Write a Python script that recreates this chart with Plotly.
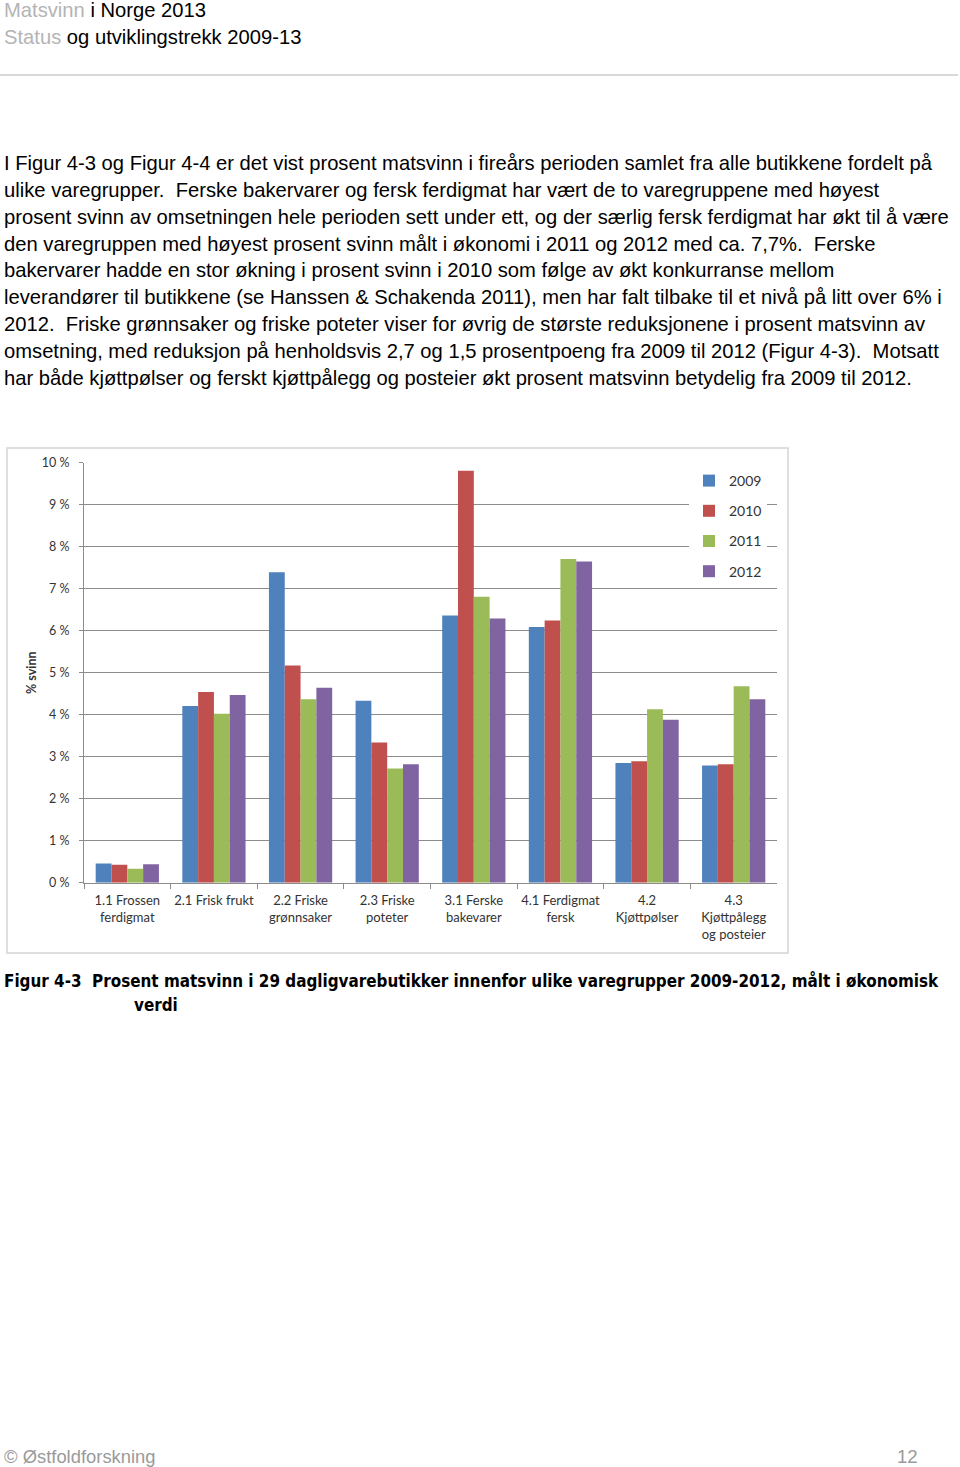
import plotly.graph_objects as go

W, H = 960, 1467

categories = [
    "1.1 Frossen<br>ferdigmat", "2.1 Frisk frukt", "2.2 Friske<br>grønnsaker",
    "2.3 Friske<br>poteter", "3.1 Ferske<br>bakevarer", "4.1 Ferdigmat<br>fersk",
    "4.2<br>Kjøttpølser", "4.3<br>Kjøttpålegg<br>og posteier",
]
years = ["2009", "2010", "2011", "2012"]
v2009 = [0.46, 4.21, 7.39, 4.33, 6.36, 6.09, 2.85, 2.79]
v2010 = [0.43, 4.54, 5.17, 3.34, 9.81, 6.24, 2.89, 2.82]
v2011 = [0.33, 4.02, 4.37, 2.72, 6.81, 7.71, 4.13, 4.68]
v2012 = [0.44, 4.47, 4.64, 2.82, 6.29, 7.65, 3.88, 4.37]
series = [v2009, v2010, v2011, v2012]
colors = ["#4F81BD", "#C0504D", "#9BBB59", "#8064A2"]
y_ticks = list(range(0, 11))
y_ticktext = [f"{v} %" for v in y_ticks]

header1 = "<span style='color:#b4b4b4'>Matsvinn</span> i Norge 2013"
header2 = "<span style='color:#b4b4b4'>Status</span> og utviklingstrekk 2009-13"
paragraph = [
    "I Figur 4-3 og Figur 4-4 er det vist prosent matsvinn i fireårs perioden samlet fra alle butikkene fordelt på",
    "ulike varegrupper.&nbsp; Ferske bakervarer og fersk ferdigmat har vært de to varegruppene med høyest",
    "prosent svinn av omsetningen hele perioden sett under ett, og der særlig fersk ferdigmat har økt til å være",
    "den varegruppen med høyest prosent svinn målt i økonomi i 2011 og 2012 med ca. 7,7%.&nbsp; Ferske",
    "bakervarer hadde en stor økning i prosent svinn i 2010 som følge av økt konkurranse mellom",
    "leverandører til butikkene (se Hanssen &amp; Schakenda 2011), men har falt tilbake til et nivå på litt over 6% i",
    "2012.&nbsp; Friske grønnsaker og friske poteter viser for øvrig de største reduksjonene i prosent matsvinn av",
    "omsetning, med reduksjon på henholdsvis 2,7 og 1,5 prosentpoeng fra 2009 til 2012 (Figur 4-3).&nbsp; Motsatt",
    "har både kjøttpølser og ferskt kjøttpålegg og posteier økt prosent matsvinn betydelig fra 2009 til 2012.",
]
caption1 = "Figur 4-3&nbsp; Prosent matsvinn i 29 dagligvarebutikker innenfor ulike varegrupper 2009-2012, målt i økonomisk"
caption2 = "verdi"
footer_left = "© Østfoldforskning"
footer_right = "12"


def px(x):
    return x / W


def py(y):
    return 1 - y / H


CHART_FONT = "Lato, 'Open Sans', sans-serif"
PAGE_FONT = "'Liberation Sans', Arial, sans-serif"
NARROW_FONT = "'Liberation Sans Narrow', 'Arial Narrow', 'DejaVu Sans Condensed', sans-serif"

fig = go.Figure()
for yr, vals, col in zip(years, series, colors):
    fig.add_trace(go.Bar(name=yr, x=categories, y=vals, marker_color=col,
                         marker_line_width=0, legendgroup=yr))

x0, x1 = 84, 777
y_bot, y_top = 882.7, 462.7

fig.update_layout(
    width=W, height=H,
    margin=dict(l=0, r=0, t=0, b=0, pad=0, autoexpand=False),
    paper_bgcolor="white", plot_bgcolor="white",
    barmode="group", bargap=0.27, bargroupgap=0,
    font=dict(family=CHART_FONT, color="#333333"),
    showlegend=True,
    legend=dict(
        x=px(689), y=py(465), xanchor="left", yanchor="top",
        bgcolor="white", borderwidth=0,
        font=dict(family=CHART_FONT, size=14, color="#333333"),
        tracegroupgap=9, itemwidth=30,
    ),
    xaxis=dict(
        domain=[px(x0), px(x1)],
        showline=True, linecolor="#8c8c8c", linewidth=1,
        ticks="outside", tickson="boundaries", ticklen=5, tickcolor="#8c8c8c",
        tickangle=0, tickfont=dict(family=CHART_FONT, size=13, color="#333333"),
        ticklabelstandoff=6,
        showgrid=False, automargin=False,
    ),
    yaxis=dict(
        domain=[py(y_bot), py(y_top)],
        range=[0, 10],
        tickvals=y_ticks, ticktext=y_ticktext,
        showline=True, linecolor="#8c8c8c", linewidth=1,
        ticks="outside", ticklen=4, tickcolor="#8c8c8c",
        ticklabelstandoff=7,
        showgrid=True, gridcolor="#8c8c8c", gridwidth=1,
        tickfont=dict(family=CHART_FONT, size=12.5, color="#333333"),
        zeroline=False, automargin=False,
    ),
)

shapes = [
    # header rule
    dict(type="line", xref="paper", yref="paper", x0=0, x1=px(958), y0=py(75), y1=py(75),
         line=dict(color="#d9d9d9", width=2)),
    # chart frame
    dict(type="rect", xref="paper", yref="paper", x0=px(7), x1=px(788), y0=py(448), y1=py(953),
         line=dict(color="#d4d4d4", width=1.5), layer="below"),
]
fig.update_layout(shapes=shapes)

ann = []


def text(t, x, y, size, color="black", family=PAGE_FONT, xanchor="left", **kw):
    ann.append(dict(text=t, x=px(x), y=py(y), xref="paper", yref="paper",
                    xanchor=xanchor, yanchor="middle", showarrow=False,
                    font=dict(family=family, size=size, color=color), **kw))


text(header1, 2, 10, 20.2)
text(header2, 2, 37, 20.2)
for i, line in enumerate(paragraph):
    text(line, 2, 163 + i * 26.85, 20.2)
text("<b>" + caption1 + "</b>", 2, 980, 16.9, family=NARROW_FONT)
text("<b>" + caption2 + "</b>", 132, 1005, 16.9, family=NARROW_FONT)
text(footer_left, 2, 1456, 18.4, color="#9a9a9a")
text(footer_right, 920, 1456, 18.6, color="#9a9a9a", xanchor="right")
text("<b>% svinn</b>", 31, 673, 12.5, color="#333333", family=CHART_FONT, textangle=-90,
     xanchor="center")
fig.update_layout(annotations=ann)

fig.write_html("out.html")
